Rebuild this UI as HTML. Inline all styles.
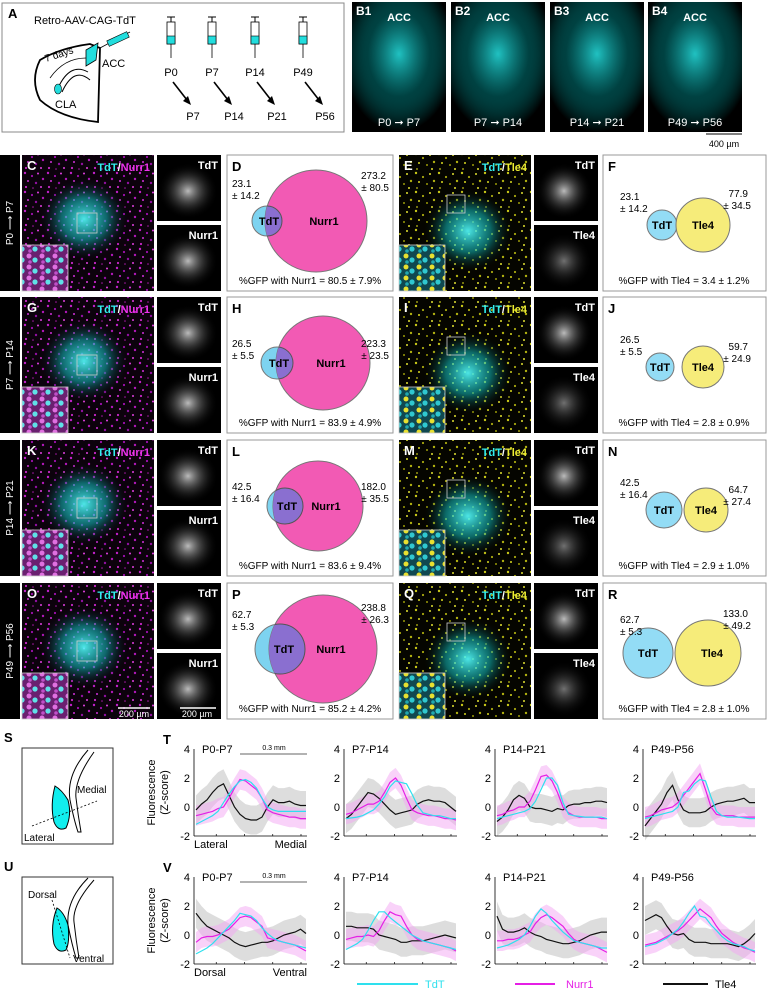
<!DOCTYPE html>
<html><head><meta charset="utf-8">
<style>
html,body{margin:0;padding:0;background:#fff;}
svg{display:block;font-family:"Liberation Sans",Arial,sans-serif;}
</style></head>
<body>
<svg id="fig" width="770" height="992" viewBox="0 0 770 992" xmlns="http://www.w3.org/2000/svg">
<defs>
<radialGradient id="gCyan" cx="0.5" cy="0.5" r="0.5"><stop offset="0" stop-color="#5ff" stop-opacity="0.9"/><stop offset="0.5" stop-color="#1bb" stop-opacity="0.55"/><stop offset="1" stop-color="#000" stop-opacity="0"/></radialGradient>
<radialGradient id="gWhite" cx="0.5" cy="0.5" r="0.5"><stop offset="0" stop-color="#ddd" stop-opacity="0.85"/><stop offset="1" stop-color="#000" stop-opacity="0"/></radialGradient>
<radialGradient id="gB" cx="0.5" cy="0.4" r="0.6"><stop offset="0" stop-color="#2cc" stop-opacity="0.95"/><stop offset="0.55" stop-color="#077" stop-opacity="0.55"/><stop offset="1" stop-color="#000" stop-opacity="1"/></radialGradient>
<pattern id="pMag" patternUnits="userSpaceOnUse" width="23" height="19">
<rect width="23" height="19" fill="#0c020c"/>
<circle cx="2" cy="2" r="1.2" fill="#c020c8"/><circle cx="9" cy="5" r="1.1" fill="#a010b0"/><circle cx="15" cy="2.5" r="1" fill="#e040e0"/>
<circle cx="20" cy="8" r="1.2" fill="#b018b8"/><circle cx="5" cy="10" r="1" fill="#d030d8"/><circle cx="13" cy="12" r="1.2" fill="#9010a0"/>
<circle cx="3" cy="16" r="1.1" fill="#c828c8"/><circle cx="18" cy="16" r="1" fill="#e040e0"/><circle cx="10" cy="17" r="0.8" fill="#a818a8"/>
</pattern>
<pattern id="pYel" patternUnits="userSpaceOnUse" width="23" height="19">
<rect width="23" height="19" fill="#050500"/>
<circle cx="2" cy="2" r="1.2" fill="#c8c818"/><circle cx="9" cy="6" r="1.1" fill="#a8a810"/><circle cx="16" cy="3" r="1" fill="#e0e030"/>
<circle cx="20" cy="10" r="1.2" fill="#b0b010"/><circle cx="5" cy="11" r="1" fill="#d8d820"/><circle cx="13" cy="13" r="1" fill="#9a9a08"/>
<circle cx="3" cy="17" r="0.9" fill="#c0c018"/><circle cx="18" cy="17" r="1" fill="#e0e030"/>
</pattern>
<pattern id="pInsM" patternUnits="userSpaceOnUse" width="13" height="11">
<rect width="13" height="11" fill="#6a2070"/><circle cx="3" cy="3" r="2.5" fill="#e070e0"/><circle cx="9" cy="7" r="2.6" fill="#60e0e8"/><circle cx="4" cy="9" r="1.8" fill="#c050c8"/>
</pattern>
<pattern id="pInsY" patternUnits="userSpaceOnUse" width="13" height="11">
<rect width="13" height="11" fill="#104850"/><circle cx="3" cy="3" r="2.5" fill="#e8e030"/><circle cx="9" cy="7" r="2.6" fill="#30c8d0"/><circle cx="4" cy="9" r="1.8" fill="#20a8b0"/>
</pattern>
</defs>

<g>
<rect x="2" y="3" width="342" height="129" fill="#fff" stroke="#888" stroke-width="1"/>
<text x="8" y="18" font-size="13" font-weight="bold">A</text>
<text x="34" y="24" font-size="11">Retro-AAV-CAG-TdT</text>
<path d="M40,60 Q60,48 90,44 L100,48 L98,122 Q60,118 40,100 Q30,80 40,60Z" fill="none" stroke="#000" stroke-width="1.8"/>
<path d="M86,50 L98,43 L96,60 L86,66Z" fill="#2dd" stroke="#000" stroke-width="0.8"/>
<path d="M58,88 Q70,62 88,72" fill="none" stroke="#000" stroke-width="1"/>
<path d="M62,92 Q74,66 90,80" fill="none" stroke="#000" stroke-width="1"/>
<path d="M50,78 Q64,58 86,58" fill="none" stroke="#000" stroke-width="0.8"/>
<ellipse cx="58" cy="89" rx="3.5" ry="5" fill="#2dd" stroke="#000" stroke-width="0.6"/>
<text x="46" y="62" font-size="10" transform="rotate(-18 46 62)">7 days</text>
<text x="102" y="67" font-size="11">ACC</text>
<text x="55" y="108" font-size="11">CLA</text>
<line x1="100" y1="48" x2="130" y2="32" stroke="#000" stroke-width="0.8"/>
<rect x="107" y="36" width="22" height="6" transform="rotate(-25 118 39)" fill="#2dd" stroke="#000" stroke-width="0.6"/>
</g>
<g id="aSyr"></g>

<g id="bPanels"></g>
<line x1="706" y1="134" x2="742" y2="134" stroke="#000" stroke-width="1"/>
<text x="724" y="147" font-size="9" text-anchor="middle">400 µm</text>

<g id="rows"></g>

<g>
<text x="4" y="742" font-size="13" font-weight="bold">S</text>
<rect x="22" y="748" width="91" height="96" fill="#fff" stroke="#333"/>
<path d="M88,750 Q66,775 70,800 Q74,820 78,832 L81,832 Q78,815 76,798 Q74,780 94,752" fill="none" stroke="#000" stroke-width="1"/>
<path d="M55,786 Q62,790 68,800 Q72,815 66,828 Q58,832 54,822 Q50,805 55,786Z" fill="#1ee" stroke="#000" stroke-width="1"/>
<line x1="32" y1="826" x2="97" y2="801" stroke="#000" stroke-width="0.8" stroke-dasharray="2,2"/>
<text x="77" y="793" font-size="10">Medial</text>
<text x="24" y="841" font-size="10">Lateral</text>
</g>
<g>
<text x="4" y="871" font-size="13" font-weight="bold">U</text>
<rect x="22" y="877" width="91" height="87" fill="#fff" stroke="#333"/>
<path d="M88,878 Q66,900 68,925 Q72,945 76,958 L79,958 Q76,940 74,922 Q72,905 94,880" fill="none" stroke="#000" stroke-width="1"/>
<path d="M57,908 Q64,912 68,925 Q70,942 66,950 Q58,954 54,944 Q50,925 57,908Z" fill="#1ee" stroke="#000" stroke-width="1"/>
<line x1="52" y1="900" x2="70" y2="958" stroke="#000" stroke-width="0.8" stroke-dasharray="2,2"/>
<text x="28" y="898" font-size="10">Dorsal</text>
<text x="73" y="962" font-size="10">Ventral</text>
</g>

<g id="charts"></g>
</svg>

<script>
const panelTitles = ["P0-P7","P7-P14","P14-P21","P49-P56"];
const yTicks = [4,2,0,-2];
const seriesNames = ["TdT","Nurr1","Tle4"];
const tTdT = [
 [-1.2,-1.0,-0.8,-0.6,-0.3,0.3,0.9,1.4,1.8,1.9,1.7,1.3,0.6,0.0,-0.2,-0.3,-0.3,-0.3,-0.3,-0.3,-0.3],
 [-0.8,-0.75,-0.7,-0.6,-0.4,-0.2,0.2,0.7,1.4,1.8,1.7,1.6,0.9,0.1,-0.4,-0.5,-0.6,-0.6,-0.7,-0.8,-0.8],
 [-0.8,-0.7,-0.6,-0.5,-0.4,-0.3,-0.1,0.4,1.2,2.0,2.0,1.5,0.3,-0.5,-0.6,-0.65,-0.7,-0.7,-0.7,-0.7,-0.8],
 [-0.8,-0.7,-0.6,-0.5,-0.4,-0.3,0.0,1.0,1.1,1.6,1.9,1.8,0.7,-0.3,-0.6,-0.7,-0.7,-0.7,-0.75,-0.8,-0.8]];
const tNurr1 = [
 [-0.6,-0.5,-0.4,-0.3,-0.1,0.0,0.6,1.3,1.9,1.8,1.5,1.2,0.6,-0.2,-0.4,-0.5,-0.6,-0.7,-0.7,-0.8,-0.8],
 [-0.5,-0.4,-0.2,0.0,0.2,0.2,0.4,1.0,1.7,2.0,1.5,0.6,-0.2,-0.4,-0.5,-0.6,-0.6,-0.7,-0.8,-0.8,-0.9],
 [-0.6,-0.5,-0.3,-0.2,0.0,0.0,0.4,1.2,2.1,2.2,1.8,1.0,0.0,-0.4,-0.6,-0.7,-0.7,-0.7,-0.7,-0.8,-0.8],
 [-0.7,-0.6,-0.4,-0.2,-0.1,0.0,0.3,0.8,1.3,1.8,2.3,1.2,0.0,-0.5,-0.6,-0.6,-0.6,-0.7,-0.7,-0.7,-0.7]];
const tTle4 = [
 [-0.2,0.2,0.5,1.0,1.4,1.6,0.8,0.0,-0.5,-0.8,-0.9,-0.9,-0.7,0.0,0.5,0.3,0.3,0.4,0.2,0.1,0.1],
 [-0.8,-0.5,0.0,0.5,1.0,0.9,0.6,0.2,-0.2,-0.5,-0.4,-0.3,-0.2,0.2,0.4,0.5,0.4,0.4,0.3,0.0,-0.3],
 [-1.0,-0.7,-0.2,0.5,0.8,0.6,0.0,-0.1,-0.1,-0.2,-0.3,-0.1,-0.2,0.1,0.2,0.2,0.3,0.3,0.4,0.4,0.3],
 [-1.3,-0.8,-0.3,0.2,1.0,1.5,0.5,-0.2,-0.4,-0.4,-0.4,-0.3,0.0,0.2,0.3,0.4,0.4,0.5,0.6,0.3,0.3]];
const vTdT = [
 [-1.3,-1.1,-0.9,-0.6,-0.2,0.2,0.6,1.0,1.5,1.4,1.3,1.0,0.5,0.1,-0.2,-0.4,-0.5,-0.6,-0.7,-0.8,-0.9],
 [-1.0,-0.8,-0.6,-0.3,0.3,1.0,1.6,1.6,1.2,0.9,0.6,0.3,0.0,-0.2,-0.4,-0.5,-0.6,-0.7,-0.8,-0.9,-1.0],
 [-0.9,-0.8,-0.7,-0.5,-0.3,0.0,0.6,1.3,1.8,1.5,1.0,0.6,0.2,-0.1,-0.4,-0.5,-0.6,-0.7,-0.8,-0.9,-0.9],
 [-0.8,-0.7,-0.6,-0.4,-0.2,0.1,0.4,0.9,1.5,2.0,1.3,1.2,0.7,0.3,-0.1,-0.4,-0.6,-0.7,-0.8,-1.0,-1.1]];
const vNurr1 = [
 [-0.5,-0.2,-0.1,-0.1,0.0,0.2,0.4,0.8,1.2,1.3,1.2,0.9,0.6,-0.2,-0.3,-0.4,-0.5,-0.6,-0.7,-0.9,-1.1],
 [-0.3,-0.2,-0.1,-0.1,0.0,-0.1,0.3,1.0,1.6,1.4,1.3,0.6,0.0,-0.3,-0.4,-0.5,-0.6,-0.7,-0.8,-0.9,-1.1],
 [-0.4,-0.4,-0.3,-0.3,-0.2,0.0,0.2,0.8,1.2,1.4,1.2,0.9,0.6,0.1,-0.3,-0.5,-0.6,-0.7,-0.8,-1.0,-1.2],
 [-0.7,-0.6,-0.5,-0.3,-0.1,0.1,0.3,0.6,1.0,1.4,1.8,1.5,1.2,0.6,0.1,-0.2,-0.5,-0.7,-0.9,-1.0,-1.2]];
const vTle4 = [
 [1.5,1.0,0.6,0.4,0.2,0.0,-0.2,-0.5,-0.7,-0.8,-0.7,-0.6,-0.5,-0.5,-0.4,-0.2,0.0,0.1,0.2,0.4,0.1],
 [0.6,0.6,0.5,0.5,0.5,0.4,0.0,-0.1,-0.2,-0.3,-0.5,-0.5,-0.4,-0.4,-0.4,-0.3,-0.2,-0.1,0.0,-0.1,-0.2],
 [1.3,0.4,0.2,0.2,0.3,0.5,0.2,0.0,-0.1,-0.3,-0.4,-0.5,-0.6,-0.6,-0.5,-0.4,-0.2,0.0,0.1,0.2,0.2],
 [1.0,1.2,1.4,1.2,0.6,0.1,0.0,0.1,-0.3,-0.5,-0.5,-0.5,-0.6,-0.6,-0.6,-0.6,-0.7,-0.8,-0.6,-0.3,0.1]];
const tle4Sem = [1.0];
const nurr1Sem = [0.7];

const rowPeriods = [["P0","P7"],["P7","P14"],["P14","P21"],["P49","P56"]];
const vennTdT = ["23.1","26.5","42.5","62.7"];
const vennTdTsd = ["14.2","5.5","16.4","5.3"];
const vennNurr1 = ["273.2","223.3","182.0","238.8"];
const vennNurr1sd = ["80.5","23.5","35.5","26.3"];
const vennTle4 = ["77.9","59.7","64.7","133.0"];
const vennTle4sd = ["34.5","24.9","27.4","49.2"];
const pctNurr1 = ["80.5 ± 7.9%","83.9 ± 4.9%","83.6 ± 9.4%","85.2 ± 4.2%"];
const pctTle4 = ["3.4 ± 1.2%","2.8 ± 0.9%","2.9 ± 1.0%","2.8 ± 1.0%"];

const NS="http://www.w3.org/2000/svg";
function mk(parent,tag,attrs,text){const e=document.createElementNS(NS,tag);for(const k in attrs)e.setAttribute(k,attrs[k]);if(text!==undefined)e.textContent=text;parent.appendChild(e);return e;}

const aS=document.getElementById('aSyr');
const syrX=[171,212,255,303], fromL=["P0","P7","P14","P49"], toL=["P7","P14","P21","P56"];
syrX.forEach((x,i)=>{
 const g=mk(aS,'g',{});
 
 
 mk(g,'line',{x1:x-4,y1:17,x2:x+4,y2:17,stroke:'#000','stroke-width':1});
 mk(g,'line',{x1:x,y1:17,x2:x,y2:22,stroke:'#000','stroke-width':1});
 mk(g,'rect',{x:x-4,y:22,width:8,height:22,fill:'#fff',stroke:'#000','stroke-width':0.8});
 mk(g,'rect',{x:x-4,y:36,width:8,height:8,fill:'#2dd',stroke:'#000','stroke-width':0.6});
 mk(g,'line',{x1:x,y1:44,x2:x,y2:58,stroke:'#000','stroke-width':0.8});
 const t1=mk(g,'text',{x:x,y:76,'font-size':11,'text-anchor':'middle'},fromL[i]);
 
 
 mk(g,'line',{x1:x+2,y1:82,x2:x+16,y2:100,stroke:'#000','stroke-width':1.6});
 mk(g,'path',{d:`M${x+20},${105} l-8,-4 l5,-5z`,fill:'#000'});
 const t2=mk(g,'text',{x:x+22,y:120,'font-size':11,'text-anchor':'middle'},toL[i]);
 
 
});

const bp=document.getElementById('bPanels');
const bX=[352,451,550,648];
bX.forEach((x,i)=>{
 const g=mk(bp,'g',{});
 
 
 mk(g,'rect',{x:x,y:2,width:94,height:130,fill:'#000'});
 mk(g,'rect',{x:x,y:2,width:94,height:130,fill:'url(#gB)'});
 mk(g,'text',{x:x+4,y:15,'font-size':12,'font-weight':'bold',fill:'#fff'},'B'+(i+1));
 mk(g,'text',{x:x+47,y:21,'font-size':11,'font-weight':'bold',fill:'#fff','text-anchor':'middle'},'ACC');
 mk(g,'text',{x:x+47,y:126,'font-size':11,fill:'#fff','text-anchor':'middle'},fromL[i]+' ➞ '+toL[i]);
});

const rows=document.getElementById('rows');
const rowY=[155,297,440,583];
const letters=[["C","D","E","F"],["G","H","I","J"],["K","L","M","N"],["O","P","Q","R"]];
const vennGeom=[[316,51,267,15,703,27,662,15],[323,47,277,16,703,21,660,14],[318,45,285,18,706,22,664,18],[323,54,280,25,708,33,648,25]];
const labOff=[[32,24,45,42],[50,50,46,53],[50,50,46,53],[35,28,40,34]];
rowY.forEach((y,i)=>{
 const g=mk(rows,'g',{});
 
 
 const h=136, cy=y+h/2;
 mk(g,'rect',{x:0,y:y,width:20,height:h,fill:'#000'});
 const st=mk(g,'text',{x:10,y:cy,'font-size':10,fill:'#fff','text-anchor':'middle',transform:`rotate(-90 10 ${cy}) translate(0 3)`},rowPeriods[i][0]+' ⟶ '+rowPeriods[i][1]);
 
 
 mk(g,'rect',{x:22,y:y,width:132,height:h,fill:'url(#pMag)'});
 mk(g,'ellipse',{cx:84,cy:cy-4,rx:45,ry:42,fill:'url(#gCyan)'});
 mk(g,'rect',{x:22,y:y+h-46,width:46,height:46,fill:'url(#pInsM)',stroke:'#ccc','stroke-width':0.8});
 mk(g,'rect',{x:77,y:cy-10,width:20,height:20,fill:'none',stroke:'#ccc','stroke-width':0.8});
 mk(g,'text',{x:27,y:y+15,'font-size':13,'font-weight':'bold',fill:'#fff'},letters[i][0]);
 const lt=mk(g,'text',{x:150,y:y+16,'font-size':11,'font-weight':'bold','text-anchor':'end'});
 mk(lt,'tspan',{fill:'#3ee'},'TdT'); mk(lt,'tspan',{fill:'#fff'},'/'); mk(lt,'tspan',{fill:'#e3e'},'Nurr1');
 [["TdT",0],["Nurr1",1]].forEach(([n,k])=>{
  const yy=y+k*70;
  mk(g,'rect',{x:157,y:yy,width:64,height:66,fill:'#000'});
  mk(g,'ellipse',{cx:188,cy:yy+36,rx:30,ry:28,fill:'url(#gWhite)'});
  mk(g,'text',{x:218,y:yy+14,'font-size':11,'font-weight':'bold',fill:'#fff','text-anchor':'end'},n);
 });
 const vb=mk(g,'g',{});
 
 
 const G=vennGeom[i], L=labOff[i];
 mk(vb,'rect',{x:227,y:y,width:166,height:h,fill:'#fff',stroke:'#999'});
 mk(vb,'text',{x:232,y:y+16,'font-size':13,'font-weight':'bold'},letters[i][1]);
 mk(vb,'circle',{cx:G[2],cy:cy-2,r:G[3],fill:'#7dd3f0',stroke:'#777'});
 mk(vb,'circle',{cx:G[0],cy:cy-2,r:G[1],fill:'#f25ab4',stroke:'#777'});
 const cp=mk(vb,'clipPath',{id:'cp'+i});
 mk(cp,'circle',{cx:G[0],cy:cy-2,r:G[1]});
 mk(vb,'circle',{cx:G[2],cy:cy-2,r:G[3],fill:'#8a6fd0',stroke:'#555','clip-path':`url(#cp${i})`});
 mk(vb,'text',{x:G[2]+(G[3]>20?4:2),y:cy+2,'font-size':11,'font-weight':'bold','text-anchor':'middle'},'TdT');
 mk(vb,'text',{x:G[0]+8,y:cy+2,'font-size':11,'font-weight':'bold','text-anchor':'middle'},'Nurr1');
 mk(vb,'text',{x:232,y:y+L[0],'font-size':10},vennTdT[i]);
 mk(vb,'text',{x:232,y:y+L[0]+12,'font-size':10},'± '+vennTdTsd[i]);
 mk(vb,'text',{x:386,y:y+L[1],'font-size':10,'text-anchor':'end'},vennNurr1[i]);
 mk(vb,'text',{x:389,y:y+L[1]+12,'font-size':10,'text-anchor':'end'},'± '+vennNurr1sd[i]);
 mk(vb,'text',{x:310,y:y+h-7,'font-size':10,'text-anchor':'middle'},'%GFP with Nurr1 = '+pctNurr1[i]);
 mk(g,'rect',{x:399,y:y,width:132,height:h,fill:'url(#pYel)'});
 mk(g,'ellipse',{cx:468,cy:cy+8,rx:45,ry:42,fill:'url(#gCyan)'});
 mk(g,'rect',{x:399,y:y+h-46,width:46,height:46,fill:'url(#pInsY)',stroke:'#ccc','stroke-width':0.8});
 mk(g,'rect',{x:447,y:cy-28,width:18,height:18,fill:'none',stroke:'#ccc','stroke-width':0.8});
 mk(g,'text',{x:404,y:y+15,'font-size':13,'font-weight':'bold',fill:'#fff'},letters[i][2]);
 const lt2=mk(g,'text',{x:527,y:y+16,'font-size':11,'font-weight':'bold','text-anchor':'end'});
 mk(lt2,'tspan',{fill:'#3ee'},'TdT'); mk(lt2,'tspan',{fill:'#fff'},'/'); mk(lt2,'tspan',{fill:'#ee3'},'Tle4');
 [["TdT",0],["Tle4",1]].forEach(([n,k])=>{
  const yy=y+k*70;
  mk(g,'rect',{x:534,y:yy,width:64,height:66,fill:'#000'});
  mk(g,'ellipse',{cx:564,cy:yy+36,rx:28,ry:28,fill:'url(#gWhite)','opacity':k?0.6:1});
  mk(g,'text',{x:595,y:yy+14,'font-size':11,'font-weight':'bold',fill:'#fff','text-anchor':'end'},n);
 });
 const vf=mk(g,'g',{});
 
 
 mk(vf,'rect',{x:603,y:y,width:163,height:h,fill:'#fff',stroke:'#999'});
 mk(vf,'text',{x:608,y:y+16,'font-size':13,'font-weight':'bold'},letters[i][3]);
 mk(vf,'circle',{cx:G[6],cy:cy+2,r:G[7],fill:'#93dcf5',stroke:'#777'});
 mk(vf,'circle',{cx:G[4],cy:cy+2,r:G[5],fill:'#f6ec7a',stroke:'#777'});
 mk(vf,'text',{x:G[6],y:cy+6,'font-size':11,'font-weight':'bold','text-anchor':'middle'},'TdT');
 mk(vf,'text',{x:G[4]+(i==3?4:0),y:cy+6,'font-size':11,'font-weight':'bold','text-anchor':'middle'},'Tle4');
 mk(vf,'text',{x:620,y:y+L[2],'font-size':10},vennTdT[i]);
 mk(vf,'text',{x:620,y:y+L[2]+12,'font-size':10},'± '+vennTdTsd[i]);
 mk(vf,'text',{x:748,y:y+L[3],'font-size':10,'text-anchor':'end'},vennTle4[i]);
 mk(vf,'text',{x:751,y:y+L[3]+12,'font-size':10,'text-anchor':'end'},'± '+vennTle4sd[i]);
 mk(vf,'text',{x:684,y:y+h-7,'font-size':10,'text-anchor':'middle'},'%GFP with Tle4 = '+pctTle4[i]);
});
mk(rows,'line',{x1:118,y1:708,x2:150,y2:708,stroke:'#fff','stroke-width':1.5});
mk(rows,'text',{x:134,y:717,'font-size':9,fill:'#fff','text-anchor':'middle'},'200 µm');
mk(rows,'line',{x1:180,y1:708,x2:216,y2:708,stroke:'#fff','stroke-width':1.5});
mk(rows,'text',{x:197,y:717,'font-size':9,fill:'#fff','text-anchor':'middle'},'200 µm');

const charts=document.getElementById('charts');
const panelX=[194,344,495,643], pw=113;
const blocks=[{top:749,bot:836,letter:"T",TdT:tTdT,Nurr1:tNurr1,Tle4:tTle4,xl:["Lateral","Medial"],key:'t'},
              {top:877,bot:964,letter:"V",TdT:vTdT,Nurr1:vNurr1,Tle4:vTle4,xl:["Dorsal","Ventral"],key:'v'}];
const colors={TdT:'#2ee0ee',Nurr1:'#e51fe5',Tle4:'#111'};
blocks.forEach(b=>{
 const yS=v=>b.bot-(v+2)/6*(b.bot-b.top);
 mk(charts,'text',{x:163,y:b.top-5,'font-size':13,'font-weight':'bold'},b.letter);
 const yt=mk(charts,'text',{x:0,y:0,'font-size':11,'text-anchor':'middle',transform:`translate(155 ${(b.top+b.bot)/2}) rotate(-90)`});
 
 
 mk(yt,'tspan',{x:0,dy:0},'Fluorescence');
 mk(yt,'tspan',{x:0,dy:13},'(Z-score)');
 panelX.forEach((px,p)=>{
  const g=mk(charts,'g',{});
  
  
  const n=b.TdT[p].length;
  const xS=i=>px+2+i/(n-1)*(pw-3);
  const band=(arr,hw,fill,op)=>{
   let d='M'+arr.map((v,i)=>xS(i).toFixed(1)+','+yS(v+hw).toFixed(1)).join('L');
   d+='L'+arr.map((v,i)=>[i,v]).reverse().map(([i,v])=>xS(i).toFixed(1)+','+yS(v-hw).toFixed(1)).join('L')+'Z';
   return mk(g,'path',{d:d,fill:fill,'fill-opacity':op});
  };
  const b1=band(b.Tle4[p],tle4Sem[0],'#bbb',0.5);
  
  
  const b2=band(b.Nurr1[p],nurr1Sem[0],'#f4a6f4',0.5);
  
  
  seriesNames.slice().reverse().forEach(s=>{
   const d='M'+b[s][p].map((v,i)=>xS(i).toFixed(1)+','+yS(v).toFixed(1)).join('L');
   const l=mk(g,'path',{d:d,fill:'none',stroke:colors[s],'stroke-width':1.2});
   
   
  });
  mk(g,'line',{x1:px,y1:b.top,x2:px,y2:b.bot,stroke:'#000','stroke-width':0.8});
  mk(g,'line',{x1:px,y1:b.bot,x2:px+pw,y2:b.bot,stroke:'#000','stroke-width':0.8});
  for(let k=1;k<=4;k++) mk(g,'line',{x1:px+k*pw/4-6,y1:b.bot,x2:px+k*pw/4-6,y2:b.bot-2,stroke:'#000','stroke-width':0.7});
  yTicks.forEach(t=>{
   const tl=mk(g,'text',{x:px-4,y:yS(t)+4,'font-size':11,'text-anchor':'end'},t);
   
   
  });
  const ti=mk(g,'text',{x:px+8,y:b.top+4,'font-size':11},panelTitles[p]);
  
  
  if(p===0){
   mk(g,'line',{x1:px+46,y1:b.top+5,x2:px+113,y2:b.top+5,stroke:'#333','stroke-width':0.8});
   mk(g,'text',{x:px+80,y:b.top+1,'font-size':7,'text-anchor':'middle'},'0.3 mm');
   mk(g,'text',{x:px,y:b.bot+12,'font-size':11},b.xl[0]);
   mk(g,'text',{x:px+pw,y:b.bot+12,'font-size':11,'text-anchor':'end'},b.xl[1]);
  }
 });
});
const lg=mk(charts,'g',{});


[[357,418,425,'TdT'],[515,555,566,'Nurr1'],[663,708,715,'Tle4']].forEach(([a,b2,tx,s])=>{
 const e=mk(lg,'g',{});
 
 
 mk(e,'line',{x1:a,y1:984,x2:b2,y2:984,stroke:colors[s],'stroke-width':2});
 mk(e,'text',{x:tx,y:988,'font-size':11,fill:s==='Tle4'?'#000':colors[s]},s);
});
</script>
</body></html>
